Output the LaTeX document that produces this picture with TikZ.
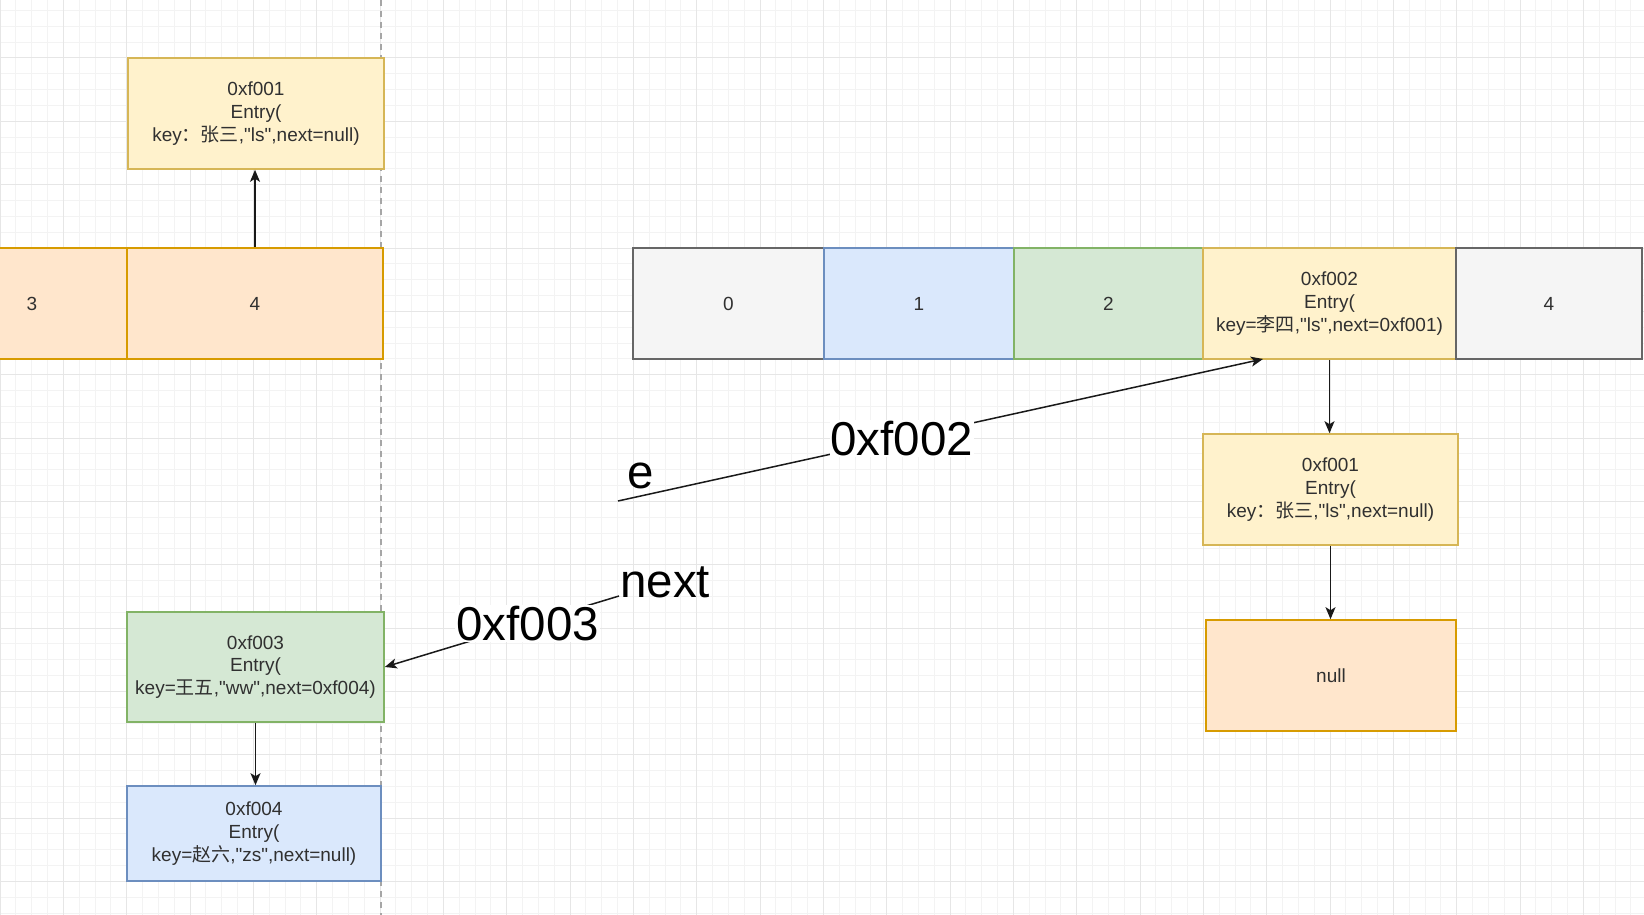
\documentclass[tikz,border=0pt]{standalone}
\usepackage{fontspec}
\setmainfont{Liberation Sans}[Ligatures=TeXOff]
\newfontfamily\cjk{Noto Sans CJK SC}
\usetikzlibrary{arrows.meta}
\definecolor{ylwF}{HTML}{FFF2CC}\definecolor{ylwD}{HTML}{D6B656}
\definecolor{orgF}{HTML}{FFE6CC}\definecolor{orgD}{HTML}{D79B00}
\definecolor{gryF}{HTML}{F5F5F5}\definecolor{gryD}{HTML}{666666}
\definecolor{bluF}{HTML}{DAE8FC}\definecolor{bluD}{HTML}{6C8EBF}
\definecolor{grnF}{HTML}{D5E8D4}\definecolor{grnD}{HTML}{82B366}
\definecolor{gridMinor}{HTML}{F3F3F3}\definecolor{gridMajor}{HTML}{E6E6E6}
\definecolor{txtC}{HTML}{303030}
\begin{document}
\begin{tikzpicture}[x=1pt,y=-1pt,
  cell/.style={draw, line width=1.6pt, inner sep=0pt, align=center, text=txtC,
    font=\fontsize{19}{22.8}\selectfont, minimum height=111pt},
  ylw/.style={cell, fill=ylwF, draw=ylwD},
  org/.style={cell, fill=orgF, draw=orgD},
  gry/.style={cell, fill=gryF, draw=gryD},
  blu/.style={cell, fill=bluF, draw=bluD},
  grn/.style={cell, fill=grnF, draw=grnD},
  conn/.style={draw=black!90, line width=1.5pt, -{Stealth[length=12pt,width=10pt,inset=3pt]}},
  biglab/.style={font=\fontsize{47.5}{57}\selectfont, text=black, inner sep=1pt},
  gminor/.style={draw=gridMinor, line width=1pt},
  gmajor/.style={draw=gridMajor, line width=1pt}]
\useasboundingbox (0,0) rectangle (1644,915);
\clip (0,0) rectangle (1644,915);
\fill[white] (0,0) rectangle (1644,915);
% grid
\foreach \i in {0,...,104} \draw[gminor] ({\i*15.8333},0) -- ({\i*15.8333},915);
\foreach \j in {0,...,58} \draw[gminor] (0,{10.5+\j*15.8333}) -- (1644,{10.5+\j*15.8333});
\foreach \i in {0,...,26} \draw[gmajor] ({\i*63.3333},0) -- ({\i*63.3333},915);
\foreach \j in {0,...,15} \draw[gmajor] (0,{-5.333+\j*63.3333}) -- (1644,{-5.333+\j*63.3333});
% dashed divider
\draw[draw=black!35, line width=1.2pt, dash pattern=on 6pt off 5pt] (381,0) -- (381,915);

% left array
\node[ylw, minimum width=256pt] (topL) at (256,113.5) {0xf001\\Entry(\\key{\cjk ：张三},"ls",next=null)};
\node[org, minimum width=190pt] (L3) at (32,303.5) {3};
\node[org, minimum width=256pt] (L4) at (255,303.5) {4};

% right array
\node[gry, minimum width=191pt] (R0) at (728.5,303.5) {0};
\node[blu, minimum width=190pt] (R1) at (919,303.5) {1};
\node[grn, minimum width=189pt] (R2) at (1108.5,303.5) {2};
\node[ylw, minimum width=253pt] (R3) at (1329.5,303.5) {0xf002\\Entry(\\key={\cjk 李四},"ls",next=0xf001)};
\node[gry, minimum width=186pt] (R4) at (1549,303.5) {4};

\node[ylw, minimum width=255pt] (Rf1) at (1330.5,489.5) {0xf001\\Entry(\\key{\cjk ：张三},"ls",next=null)};
\node[org, minimum width=250pt] (nul) at (1331,675.5) {null};

\node[grn, minimum width=257pt, minimum height=110pt] (G3) at (255.5,667) {0xf003\\Entry(\\key={\cjk 王五},"ww",next=0xf004)};
\node[blu, minimum width=254pt, minimum height=95pt] (B4) at (254,833.5) {0xf004\\Entry(\\key={\cjk 赵六},"zs",next=null)};

% connectors
\draw[conn] (L4.north) -- (L4.north |- topL.south);
\draw[conn] (R3.south) -- (R3.south |- Rf1.north);
\draw[conn] (Rf1.south) -- (Rf1.south |- nul.north);
\draw[conn] (G3.south) -- (G3.south |- B4.north);

\coordinate (estart) at (618,501);
\coordinate (eend) at (1263,359);
\draw[conn] (estart) -- node[biglab, fill=white, pos=0.44] (lf2) {0xf002} (eend);
\node[biglab, anchor=base, inner sep=0pt] (le) at (641,488) {e};

\coordinate (nstart) at (619,596);
\draw[conn] (nstart) -- node[biglab, fill=white, pos=0.39] (lf3) {0xf003} (G3.east);
\node[biglab, anchor=base west, inner sep=0pt] (lnext) at (620,597) {next};
\end{tikzpicture}
\end{document}
